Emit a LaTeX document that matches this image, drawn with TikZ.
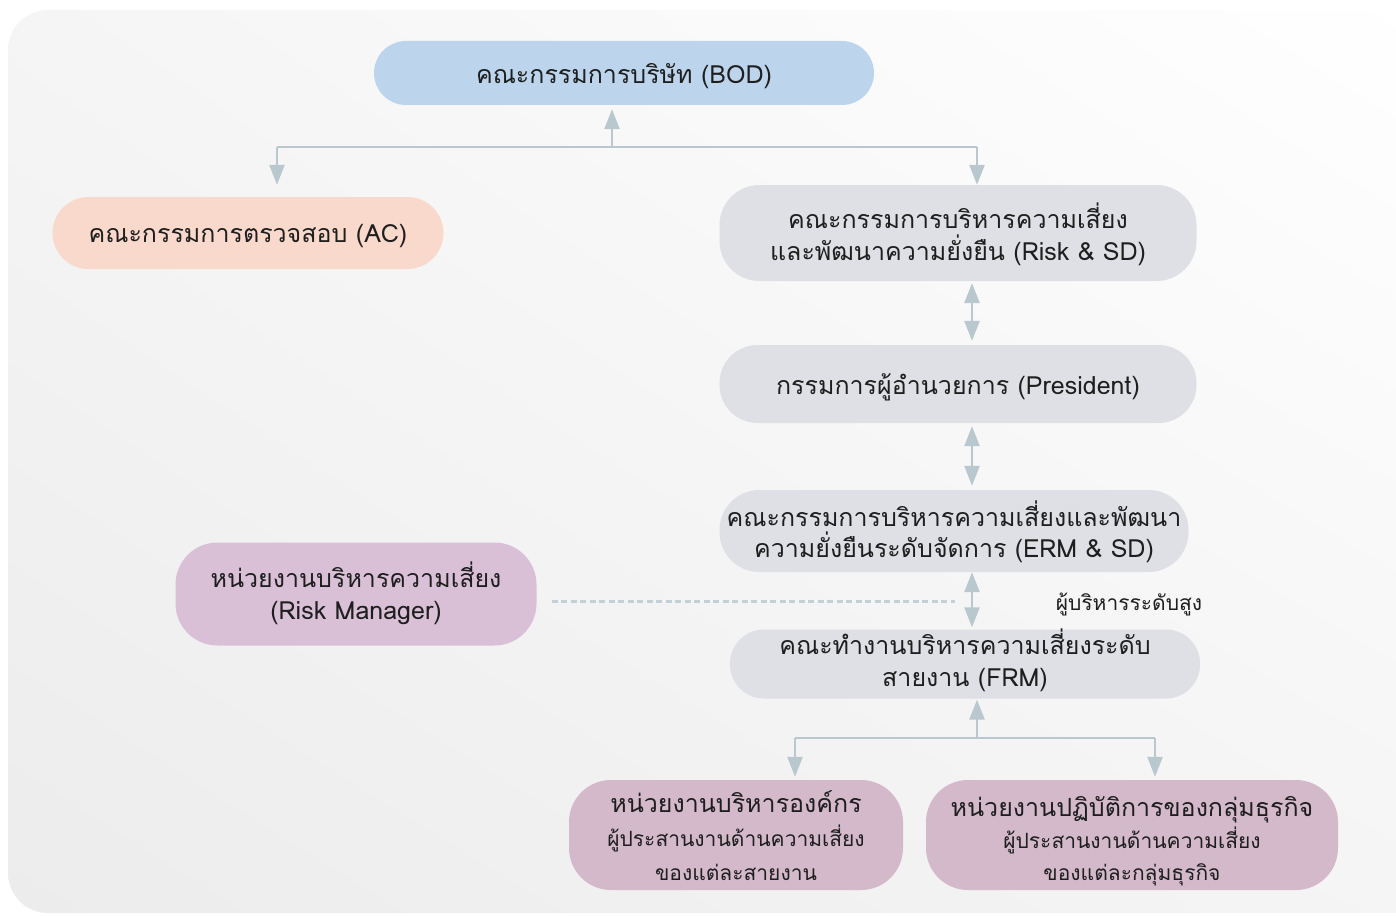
\documentclass[tikz,border=0pt]{standalone}
\usepackage{fontspec}
\setmainfont[Script=Thai]{Loma}
\usetikzlibrary{arrows.meta,shadings}
\definecolor{bodc}{HTML}{BDD5EC}
\definecolor{acc}{HTML}{F8D9CB}
\definecolor{grayc}{HTML}{DFE0E5}
\definecolor{mauvec}{HTML}{D9C0D6}
\definecolor{mauvecb}{HTML}{D3B9CA}
\definecolor{arrc}{HTML}{B8C8CE}
\definecolor{txt}{HTML}{1E1E1E}
\definecolor{bgA}{HTML}{ECECEC}
\definecolor{bgB}{HTML}{F5F5F5}
\definecolor{bgC}{HTML}{FFFFFF}
\newcommand{\tx}[2][-3pt]{\raisebox{#1}[\height][\depth]{\vbox{\lineskiplimit=-50pt\halign{\hfil##\hfil\cr#2\crcr}}}}
\newcommand{\subf}{\fontsize{21}{33}\selectfont}
\begin{document}
\begin{tikzpicture}[x=1pt,y=-1pt,
  box/.style={inner sep=0pt, text=txt, font=\fontsize{25}{32}\selectfont},
  conn/.style={draw=arrc, line width=2.5pt},
  arr/.style={conn, -{Triangle[width=15pt,length=20pt]}},
  darr/.style={conn, {Triangle[width=15pt,length=20pt]}-{Triangle[width=15pt,length=20pt]}},
  dotline/.style={draw=arrc!85!white, line width=3pt, dash pattern=on 6pt off 3.5pt}
]
\useasboundingbox (0,0) rectangle (1396,915);
\begin{scope}
\clip (0,0) rectangle (1396,915);
\shade[rounded corners=40pt, upper left=bgB, upper right=bgC, lower left=bgA, lower right=bgB]
  (8,10) rectangle (1440,913);
\end{scope}

\node[box, fill=bodc, rounded corners=32pt, minimum width=500pt, minimum height=64pt] (bod) at (624,73) {\tx{คณะกรรมการบริษัท (BOD)}};
\node[box, fill=acc, rounded corners=36pt, minimum width=391pt, minimum height=72pt] (ac) at (248,233) {\tx{คณะกรรมการตรวจสอบ (AC)}};
\node[box, fill=grayc, rounded corners=40pt, minimum width=477pt, minimum height=96pt] (risk) at (958,233) {\tx[-1pt]{คณะกรรมการบริหารความเสี่ยง\cr และพัฒนาความยั่งยืน (Risk \& SD)}};
\node[box, fill=grayc, rounded corners=38pt, minimum width=477pt, minimum height=78pt] (pres) at (958,384) {\tx{กรรมการผู้อำนวยการ (President)}};
\node[box, fill=grayc, rounded corners=40pt, minimum width=469pt, minimum height=82pt, font=\fontsize{25}{31}\selectfont] (erm) at (954,531) {\tx[-1pt]{คณะกรรมการบริหารความเสี่ยงและพัฒนา\cr ความยั่งยืนระดับจัดการ (ERM \& SD)}};
\node[box, fill=mauvec, rounded corners=42pt, minimum width=361pt, minimum height=103pt] (rm) at (356,594) {\tx[1pt]{หน่วยงานบริหารความเสี่ยง\cr (Risk Manager)}};
\node[box, fill=grayc, rounded corners=34pt, minimum width=470pt, minimum height=69pt] (frm) at (965,664) {\tx[4pt]{คณะทำงานบริหารความเสี่ยงระดับ\cr สายงาน (FRM)}};
\node[box, fill=mauvecb, rounded corners=42pt, minimum width=334pt, minimum height=110pt, font=\fontsize{25}{34}\selectfont] (org) at (736,835) {\tx[-1pt]{หน่วยงานบริหารองค์กร\cr {\subf ผู้ประสานงานด้านความเสี่ยง}\cr {\subf ของแต่ละสายงาน}}};
\node[box, fill=mauvecb, rounded corners=42pt, minimum width=412pt, minimum height=110pt, font=\fontsize{25}{32}\selectfont] (biz) at (1132,835) {\tx[-6pt]{หน่วยงานปฏิบัติการของกลุ่มธุรกิจ\cr {\subf ผู้ประสานงานด้านความเสี่ยง}\cr {\subf ของแต่ละกลุ่มธุรกิจ}}};
\node[text=txt, font=\fontsize{21}{24}\selectfont, inner sep=0pt] (senior) at (1129,604) {ผู้บริหารระดับสูง};

% top connectors
\coordinate (j1) at (612,147);
\coordinate (jl) at (277,147);
\coordinate (jr) at (977,147);
\draw[conn] (jl) -- (jr);
\draw[arr, shorten >=4pt] (j1) -- (j1 |- bod.south);
\draw[arr, shorten >=12pt] (jl) -- (jl |- ac.north);
\draw[arr] (jr) -- (jr |- risk.north);

% vertical chain
\coordinate (ax) at (972,0);
\draw[darr, shorten <=2pt, shorten >=4pt] (ax |- risk.south) -- (ax |- pres.north);
\draw[darr, shorten <=3pt, shorten >=4pt] (ax |- pres.south) -- (ax |- erm.north);
\draw[darr, shorten <=0pt, shorten >=2pt] (ax |- erm.south) -- (ax |- frm.north);

% dotted link
\coordinate (dl) at (955,601);
\draw[dotline, shorten <=15pt] (rm.east |- dl) -- (dl);

% bottom connectors
\coordinate (j2) at (977,738);
\coordinate (bl) at (795,738);
\coordinate (br) at (1155,738);
\draw[conn] (bl) -- (br);
\draw[arr, shorten >=1pt] (j2) -- (j2 |- frm.south);
\draw[arr, shorten >=3pt] (bl) -- (bl |- org.north);
\draw[arr, shorten >=3pt] (br) -- (br |- biz.north);
\end{tikzpicture}
\end{document}
